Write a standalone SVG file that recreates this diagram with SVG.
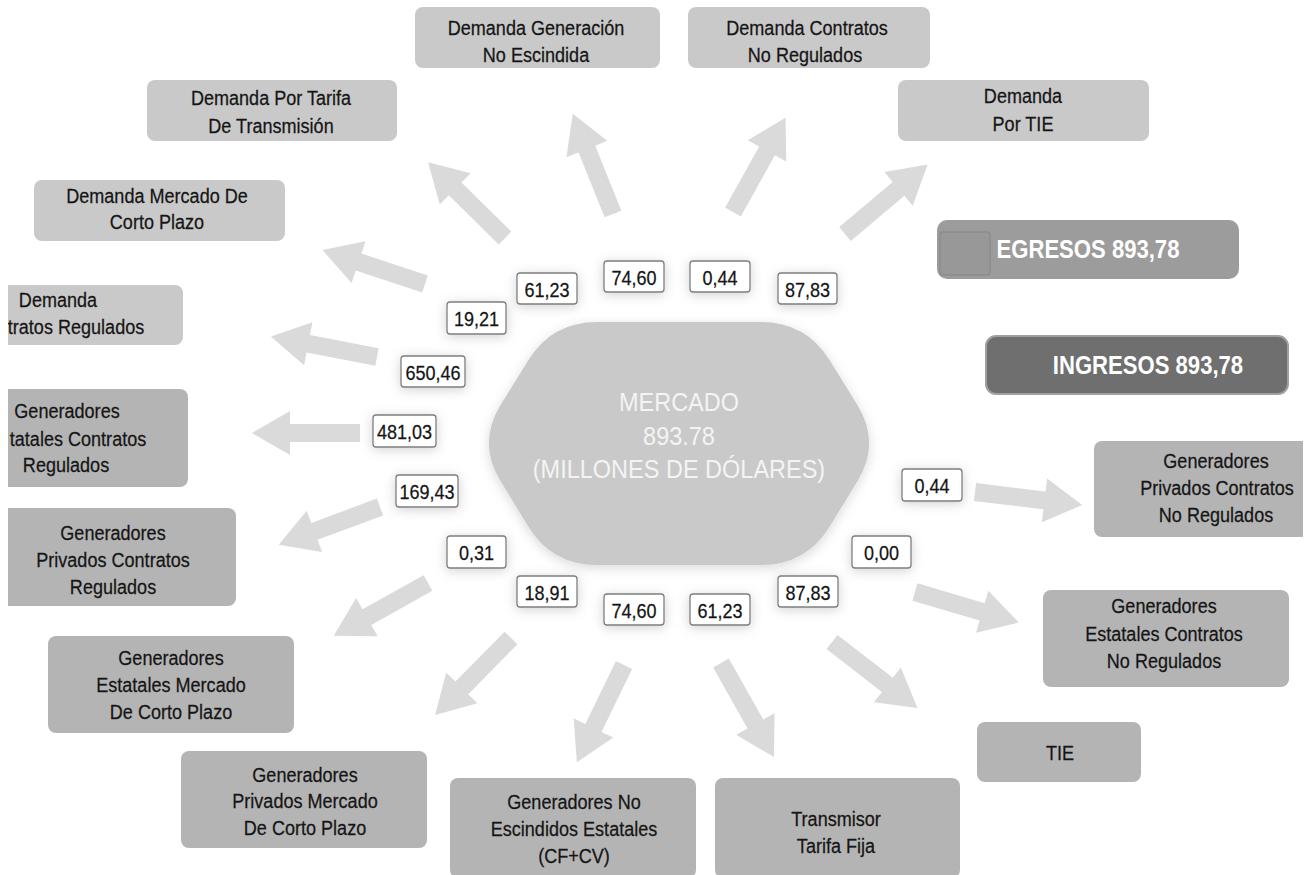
<svg xmlns="http://www.w3.org/2000/svg" xmlns:xlink="http://www.w3.org/1999/xlink" width="1311" height="875" viewBox="0 0 1311 875">
<style>
.t{font-family:"Liberation Sans",Arial,sans-serif;font-size:21px;fill:#151515;stroke:#151515;stroke-width:0.25;text-anchor:middle;transform-box:fill-box;transform-origin:center;transform:scaleX(0.86)}
.hx{font-family:"Liberation Sans",Arial,sans-serif;font-size:25px;fill:#f4f4f4;text-anchor:middle;transform-box:fill-box;transform-origin:center;transform:scaleX(0.94)}
.lg{font-family:"Liberation Sans",Arial,sans-serif;font-size:26px;font-weight:bold;fill:#ffffff;text-anchor:middle;transform-box:fill-box;transform-origin:center;transform:scaleX(0.85)}
.bd{fill:#c9c9c9}
.bg{fill:#b4b4b4}
.nb{fill:#ffffff;stroke:#7e7e7e;stroke-width:1.3}
</style>
<defs>
<path id="arr" d="M0,-9 L70,-9 L70,-22 L108,0 L70,22 L70,9 L0,9 Z" fill="#dadada"/>
<filter id="glow" x="-50%" y="-50%" width="200%" height="200%">
<feDropShadow dx="0" dy="2" stdDeviation="6" flood-color="#000" flood-opacity="0.18"/>
</filter>
<filter id="sh" x="-20%" y="-20%" width="140%" height="140%">
<feDropShadow dx="0" dy="3" stdDeviation="6" flood-color="#000" flood-opacity="0.15"/>
</filter>
<clipPath id="frame"><rect x="8" y="0" width="1295" height="875"/></clipPath>
</defs>
<rect x="0" y="0" width="1311" height="875" fill="#ffffff"/>
<g clip-path="url(#frame)">
<g id="connectors">
<use xlink:href="#arr" transform="translate(505,238) rotate(-135.4)"/>
<use xlink:href="#arr" transform="translate(613,214) rotate(-111.9)"/>
<use xlink:href="#arr" transform="translate(733,212) rotate(-60.9)"/>
<use xlink:href="#arr" transform="translate(845,234) rotate(-40.1)"/>
<use xlink:href="#arr" transform="translate(425,284) rotate(-161.7)"/>
<use xlink:href="#arr" transform="translate(377,357) rotate(-169.1)"/>
<use xlink:href="#arr" transform="translate(360,433) rotate(180)"/>
<use xlink:href="#arr" transform="translate(380,507) rotate(159.6)"/>
<use xlink:href="#arr" transform="translate(428,583) rotate(150.8)"/>
<use xlink:href="#arr" transform="translate(511,638) rotate(134.6)"/>
<use xlink:href="#arr" transform="translate(624,665) rotate(115.9)"/>
<use xlink:href="#arr" transform="translate(721,663) rotate(60.6)"/>
<use xlink:href="#arr" transform="translate(832,642) rotate(37.7)"/>
<use xlink:href="#arr" transform="translate(915,592) rotate(16.4)"/>
<use xlink:href="#arr" transform="translate(975,492) rotate(6.9)"/>
</g>
<g id="mercado">
<path filter="url(#sh)" fill="#c9c9c9" d="M500.6,481.3 Q477,443 500.7,404.8 L528.3,360.2 Q552,322 597,322 L761,322 Q806,322 829.7,360.2 L857.3,404.8 Q881,443 857.4,481.3 L829.6,526.7 Q806,565 761,565 L597,565 Q552,565 528.4,526.7 Z"/>
<text class="hx" x="679" y="411">MERCADO</text>
<text class="hx" x="679" y="445">893.78</text>
<text class="hx" x="679" y="478">(MILLONES DE DÓLARES)</text>
</g>
<g id="dem-gen-no-escindida">
<rect class="bd" x="415" y="7" width="245" height="61" rx="8"/>
<text class="t" x="536" y="35">Demanda Generación</text>
<text class="t" x="536" y="62">No Escindida</text>
</g>
<g id="dem-contratos-no-regulados">
<rect class="bd" x="688" y="7" width="242" height="61" rx="8"/>
<text class="t" x="807" y="35">Demanda Contratos</text>
<text class="t" x="805" y="62">No Regulados</text>
</g>
<g id="dem-tie">
<rect class="bd" x="898" y="80" width="251" height="61" rx="8"/>
<text class="t" x="1023" y="103">Demanda</text>
<text class="t" x="1023" y="131">Por TIE</text>
</g>
<g id="dem-tarifa-transmision">
<rect class="bd" x="147" y="80" width="250" height="61" rx="8"/>
<text class="t" x="271" y="105">Demanda Por Tarifa</text>
<text class="t" x="271" y="133">De Transmisión</text>
</g>
<g id="dem-mcp">
<rect class="bd" x="34" y="180" width="251" height="61" rx="8"/>
<text class="t" x="157" y="203">Demanda Mercado De</text>
<text class="t" x="157" y="229">Corto Plazo</text>
</g>
<g id="dem-contratos-regulados">
<rect class="bd" x="-20" y="285" width="203" height="60" rx="8"/>
<text class="t" x="58" y="307">Demanda</text>
<text class="t" x="76" y="334">tratos Regulados</text>
</g>
<g id="gen-est-contratos-reg">
<rect class="bg" x="-20" y="389" width="208" height="98" rx="8"/>
<text class="t" x="67" y="418">Generadores</text>
<text class="t" x="78" y="446">tatales Contratos</text>
<text class="t" x="66" y="472">Regulados</text>
</g>
<g id="gen-priv-contratos-reg">
<rect class="bg" x="-20" y="508" width="256" height="98" rx="8"/>
<text class="t" x="113" y="540">Generadores</text>
<text class="t" x="113" y="567">Privados Contratos</text>
<text class="t" x="113" y="594">Regulados</text>
</g>
<g id="gen-est-mcp">
<rect class="bg" x="48" y="636" width="246" height="97" rx="8"/>
<text class="t" x="171" y="665">Generadores</text>
<text class="t" x="171" y="692">Estatales Mercado</text>
<text class="t" x="171" y="719">De Corto Plazo</text>
</g>
<g id="gen-priv-mcp">
<rect class="bg" x="181" y="751" width="246" height="97" rx="8"/>
<text class="t" x="305" y="782">Generadores</text>
<text class="t" x="305" y="808">Privados Mercado</text>
<text class="t" x="305" y="835">De Corto Plazo</text>
</g>
<g id="gen-no-escindidos">
<rect class="bg" x="450" y="778" width="246" height="100" rx="8"/>
<text class="t" x="574" y="809">Generadores No</text>
<text class="t" x="574" y="836">Escindidos Estatales</text>
<text class="t" x="574" y="863">(CF+CV)</text>
</g>
<g id="transmisor">
<rect class="bg" x="715" y="778" width="245" height="100" rx="8"/>
<text class="t" x="836" y="826">Transmisor</text>
<text class="t" x="836" y="853">Tarifa Fija</text>
</g>
<g id="tie">
<rect class="bg" x="977" y="722" width="164" height="60" rx="8"/>
<text class="t" x="1060" y="760">TIE</text>
</g>
<g id="gen-est-contratos-no-reg">
<rect class="bg" x="1043" y="590" width="246" height="97" rx="8"/>
<text class="t" x="1164" y="613">Generadores</text>
<text class="t" x="1164" y="641">Estatales Contratos</text>
<text class="t" x="1164" y="668">No Regulados</text>
</g>
<g id="gen-priv-contratos-no-reg">
<rect class="bg" x="1094" y="441" width="230" height="96" rx="8"/>
<text class="t" x="1216" y="468">Generadores</text>
<text class="t" x="1217" y="495">Privados Contratos</text>
<text class="t" x="1216" y="522">No Regulados</text>
</g>
<g id="legend-egresos">
<rect x="937" y="220" width="302" height="59" rx="10" fill="#9c9c9c"/>
<rect x="940" y="232" width="50" height="43" rx="3" fill="#989898" stroke="#8c8c8c" stroke-width="1.5"/>
<text class="lg" x="1088" y="258">EGRESOS 893,78</text>
</g>
<g id="legend-ingresos">
<rect x="986" y="336" width="302" height="58" rx="10" fill="#6f6f6f" stroke="#a0a0a0" stroke-width="2"/>
<text class="lg" x="1148" y="374">INGRESOS 893,78</text>
</g>
<g id="values">
<g filter="url(#glow)">
<rect class="nb" x="517" y="273" width="60" height="31" rx="3"/>
<rect class="nb" x="604" y="261" width="60" height="31" rx="3"/>
<rect class="nb" x="690" y="261" width="60" height="31" rx="3"/>
<rect class="nb" x="778" y="273" width="59" height="31" rx="3"/>
<rect class="nb" x="447" y="302" width="59" height="32" rx="3"/>
<rect class="nb" x="401" y="356" width="64" height="31" rx="3"/>
<rect class="nb" x="373" y="415" width="63" height="32" rx="3"/>
<rect class="nb" x="396" y="475" width="62" height="32" rx="3"/>
<rect class="nb" x="447" y="536" width="59" height="32" rx="3"/>
<rect class="nb" x="517" y="576" width="60" height="31" rx="3"/>
<rect class="nb" x="604" y="594" width="60" height="31" rx="3"/>
<rect class="nb" x="690" y="594" width="60" height="31" rx="3"/>
<rect class="nb" x="778" y="576" width="60" height="31" rx="3"/>
<rect class="nb" x="852" y="536" width="59" height="32" rx="3"/>
<rect class="nb" x="902" y="469" width="60" height="32" rx="3"/>
</g>
<text class="t" x="547" y="297">61,23</text>
<text class="t" x="634" y="285">74,60</text>
<text class="t" x="720" y="285">0,44</text>
<text class="t" x="807.5" y="297">87,83</text>
<text class="t" x="476.5" y="326">19,21</text>
<text class="t" x="433" y="380">650,46</text>
<text class="t" x="404.5" y="439">481,03</text>
<text class="t" x="427" y="499">169,43</text>
<text class="t" x="476.5" y="560">0,31</text>
<text class="t" x="547" y="600">18,91</text>
<text class="t" x="634" y="618">74,60</text>
<text class="t" x="720" y="618">61,23</text>
<text class="t" x="808" y="600">87,83</text>
<text class="t" x="881.5" y="560">0,00</text>
<text class="t" x="932" y="493">0,44</text>
</g>
</g>
</svg>
